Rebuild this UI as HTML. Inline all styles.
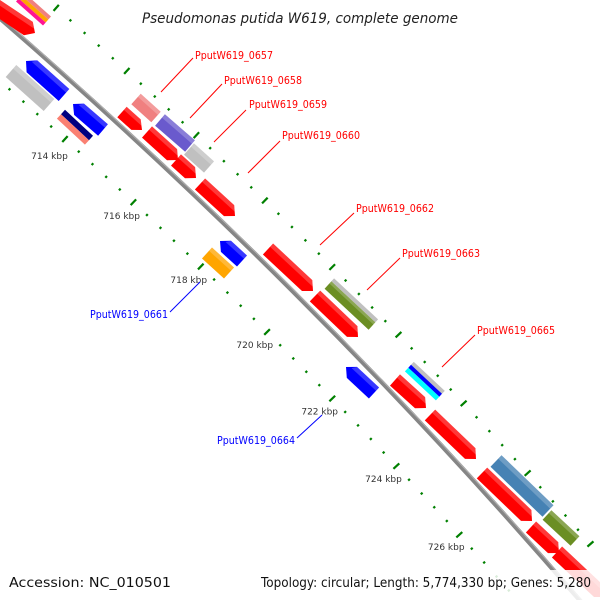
<!DOCTYPE html>
<html><head><meta charset="utf-8"><style>
html,body{margin:0;padding:0;background:#fff;width:600px;height:600px;overflow:hidden}
svg{display:block;overflow:hidden}
.lbl{font-family:"DejaVu Sans","Liberation Sans",sans-serif;font-size:11px}
.kbp{font-family:"DejaVu Sans","Liberation Sans",sans-serif;font-size:9px;fill:#333}
</style></head><body>
<svg id="s" width="600" height="600" viewBox="0 0 600 600" xmlns="http://www.w3.org/2000/svg">
<g id="ticks"></g>
<circle cx="-3704" cy="4289" r="5653" fill="none" stroke="#858585" stroke-width="4.5"/>
<circle cx="-3704" cy="4289" r="5654.5" fill="none" stroke="#b0b0b0" stroke-width="1"/>
<g id="genes"></g>
<g id="kl"></g>
<text x="300" y="23" text-anchor="middle" font-family="DejaVu Sans, Liberation Sans, sans-serif" font-style="italic" font-size="14" fill="#222" textLength="316" lengthAdjust="spacingAndGlyphs">Pseudomonas putida W619, complete genome</text>
<g stroke="#ff0000" stroke-width="1">
<line x1="193" y1="58" x2="161" y2="92"/>
<line x1="222" y1="84" x2="190" y2="118"/>
<line x1="246" y1="110" x2="214" y2="142"/>
<line x1="280" y1="141" x2="248" y2="173"/>
<line x1="354" y1="213" x2="320" y2="245"/>
<line x1="400" y1="258" x2="367" y2="290"/>
<line x1="475" y1="335" x2="442" y2="367"/>
</g>
<g stroke="#0000ff" stroke-width="1">
<line x1="170" y1="312" x2="200" y2="282"/>
<line x1="297" y1="438" x2="322" y2="415"/>
</g>
<g class="lbl" fill="#ff0000">
<text x="195" y="59" textLength="78" lengthAdjust="spacingAndGlyphs">PputW619_0657</text>
<text x="224" y="84" textLength="78" lengthAdjust="spacingAndGlyphs">PputW619_0658</text>
<text x="249" y="108" textLength="78" lengthAdjust="spacingAndGlyphs">PputW619_0659</text>
<text x="282" y="139" textLength="78" lengthAdjust="spacingAndGlyphs">PputW619_0660</text>
<text x="356" y="212" textLength="78" lengthAdjust="spacingAndGlyphs">PputW619_0662</text>
<text x="402" y="257" textLength="78" lengthAdjust="spacingAndGlyphs">PputW619_0663</text>
<text x="477" y="334" textLength="78" lengthAdjust="spacingAndGlyphs">PputW619_0665</text>
</g>
<g class="lbl" fill="#0000ff">
<text x="90" y="318" textLength="78" lengthAdjust="spacingAndGlyphs">PputW619_0661</text>
<text x="217" y="444" textLength="78" lengthAdjust="spacingAndGlyphs">PputW619_0664</text>
</g>
<rect x="255" y="570" width="345" height="30" fill="#fff" opacity="0.85"/>
<text x="9" y="587" font-family="DejaVu Sans, Liberation Sans, sans-serif" font-size="13" fill="#111" textLength="162" lengthAdjust="spacingAndGlyphs">Accession: NC_010501</text>
<text x="261" y="587" font-family="DejaVu Sans, Liberation Sans, sans-serif" font-size="13" fill="#111" textLength="330" lengthAdjust="spacingAndGlyphs">Topology: circular; Length: 5,774,330 bp; Genes: 5,280</text>
</svg>
<script>
(function(){
var NS="http://www.w3.org/2000/svg";
function el(p,n,a){var e=document.createElementNS(NS,n);for(var k in a)e.setAttribute(k,a[k]);p.appendChild(e);return e;}
var cx=-3704,cy=4289;
var T=document.getElementById("ticks"),K=document.getElementById("kl");
var phi0=Math.atan2(139-cy,65-cx),d=18.63/5606;
var labels=[714,716,718,720,722,724,726];
for(var i=-10;i<=45;i++){
 var a=phi0+i*d,ca=Math.cos(a),sa=Math.sin(a),maj=(i%5===0);
 [5606,5698].forEach(function(R){
  var l=maj?4:1.2;
  var x1=cx+(R-l)*ca,y1=cy+(R-l)*sa,x2=cx+(R+l)*ca,y2=cy+(R+l)*sa;
  if(x2<-10||x1>600||y1<-10||y2>600)return;
  el(T,"line",{x1:x1,y1:y1,x2:x2,y2:y2,stroke:"#008000","stroke-width":2.2});
 });
 if(maj){var idx=i/5;if(idx>=0&&idx<labels.length){
  var R=5583;var t=el(K,"text",{x:cx+R*ca+(idx>0?4:0),y:cy+R*sa+(idx>0?0:3),"text-anchor":"middle","class":"kbp"});t.textContent=labels[idx]+" kbp";}}
}
var G=document.getElementById("genes");
function g(x1,y1,x2,y2,w,c,t,off){
 off=off||0;var dx=x2-x1,dy=y2-y1,L=Math.sqrt(dx*dx+dy*dy),ux=dx/L,uy=dy/L,nx=uy,ny=-ux;
 x1+=nx*off;y1+=ny*off;x2+=nx*off;y2+=ny*off;
 var h=Math.min(8,L/3),hw=w/2;
 function P(x,y){return x.toFixed(1)+","+y.toFixed(1);}
 var pts,hl;
 if(t==="r"){
  pts=[P(x1+nx*hw,y1+ny*hw),P(x2-ux*h+nx*hw,y2-uy*h+ny*hw),P(x2,y2),P(x2-ux*h-nx*hw,y2-uy*h-ny*hw),P(x1-nx*hw,y1-ny*hw)];
  hl=[P(x1+nx*hw,y1+ny*hw),P(x2-ux*h+nx*hw,y2-uy*h+ny*hw),P(x2-ux*h*0.4+nx*hw*0.4,y2-uy*h*0.4+ny*hw*0.4),P(x1+nx*hw*0.4,y1+ny*hw*0.4)];
 }else if(t==="l"){
  pts=[P(x1,y1),P(x1+ux*h+nx*hw,y1+uy*h+ny*hw),P(x2+nx*hw,y2+ny*hw),P(x2-nx*hw,y2-ny*hw),P(x1+ux*h-nx*hw,y1+uy*h-ny*hw)];
  hl=[P(x1+ux*h*0.6+nx*hw*0.4,y1+uy*h*0.6+ny*hw*0.4),P(x1+ux*h+nx*hw,y1+uy*h+ny*hw),P(x2+nx*hw,y2+ny*hw),P(x2+nx*hw*0.4,y2+ny*hw*0.4)];
 }else{
  pts=[P(x1+nx*hw,y1+ny*hw),P(x2+nx*hw,y2+ny*hw),P(x2-nx*hw,y2-ny*hw),P(x1-nx*hw,y1-ny*hw)];
  hl=w>7?[P(x1+nx*hw,y1+ny*hw),P(x2+nx*hw,y2+ny*hw),P(x2+nx*hw*0.4,y2+ny*hw*0.4),P(x1+nx*hw*0.4,y1+ny*hw*0.4)]:null;
 }
 el(G,"polygon",{points:pts.join(" "),fill:c});
 if(hl)el(G,"polygon",{points:hl.join(" "),fill:"#fff",opacity:0.22});
}
g(-10,3,35,33,16,"#ff0000","r");
g(20,-3,47,21,4,"#f08080","n",4);
g(20,-3,47,21,4,"#ffa500","n",0);
g(20,-3,47,21,4,"#ff1493","n",-4);
g(11,71,49,105,16,"#c0c0c0","n");
g(26,61,64,95,16,"#0000ff","l");
g(73,104,103,130,15,"#0000ff","l");
g(63,112,91,138,6,"#000080","n");
g(63,112,91,138,6,"#fa8072","n",-6);
g(136,99,156,117,14,"#f08080","n");
g(122,112,142,130,14,"#ff0000","r");
g(160,120,190,146,15,"#6a5acd","n");
g(189,149,209,167,15,"#c0c0c0","n");
g(147,132,178,160,15,"#ff0000","r");
g(176,160,196,178,15,"#ff0000","r");
g(200,184,235,216,15,"#ff0000","r");
g(220,241,242,261,15,"#0000ff","l");
g(207,253,229,273,15,"#ffa500","n");
g(268,249,313,291,15,"#ff0000","r");
g(328,285,372,326,10,"#6b8e23","n");
g(328,285,372,326,4,"#c0c0c0","n",7);
g(315,296,358,337,15,"#ff0000","r");
g(346,367,374,393,15,"#0000ff","l");
g(409,367,440,396,4,"#c0c0c0","n",5);
g(409,367,440,396,4,"#0000ff","n",1);
g(409,367,440,396,5,"#00ffff","n",-3.5);
g(395,380,426,408,15,"#ff0000","r");
g(430,415,476,459,15,"#ff0000","r");
g(496,461,548,511,16,"#4682b4","n");
g(482,473,532,521,15,"#ff0000","r");
g(547,515,575,541,13,"#6b8e23","n");
g(531,527,559,553,15,"#ff0000","r");
g(557,552,605,597,15,"#ff0000","r");
})();
</script>
</body></html>
